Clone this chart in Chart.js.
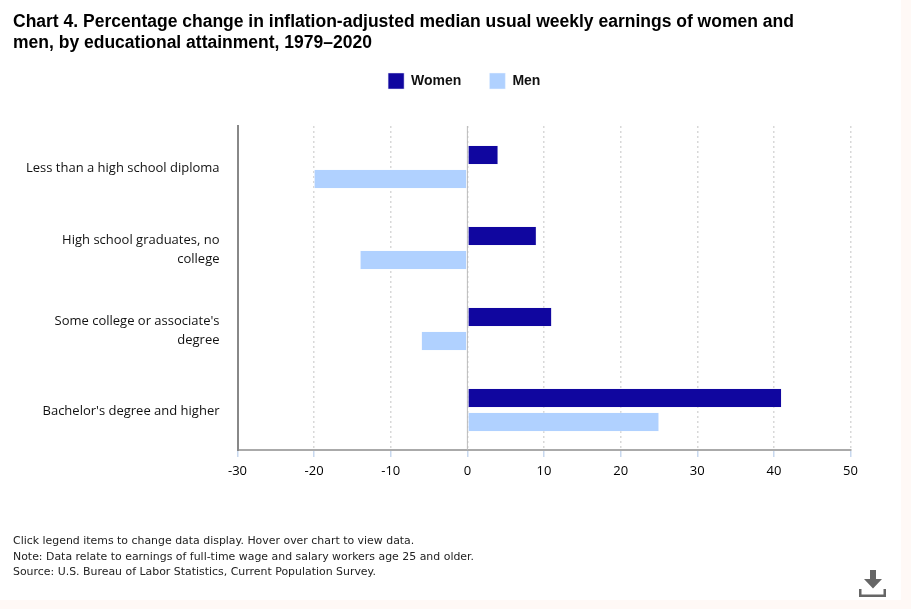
<!DOCTYPE html>
<html>
<head>
<meta charset="utf-8">
<style>
  html, body { margin: 0; padding: 0; width: 911px; height: 609px; overflow: hidden; background: #fff9f6; }
  #panel { position: absolute; left: 0; top: 0; width: 901px; height: 600px; background: #fff; }
  #title { position: absolute; left: 13px; top: 11px; width: 860px; font: bold 17.5px/21px "Liberation Sans", Arial, sans-serif; color: #000; }
  #notes { position: absolute; left: 13px; top: 533px; font: 10.93px/15.5px "DejaVu Sans", sans-serif; color: #222; }
  #chart { position: absolute; left: 0; top: 0; }
  #download { position: absolute; left: 859px; top: 570px; }
</style>
<script src="https://cdn.jsdelivr.net/npm/chart.js@4"></script>
</head>
<body>
<div id="panel"></div>
<canvas id="chart" width="930" height="609" style="width:930px;height:609px"></canvas>
<div id="title">Chart 4. Percentage change in inflation-adjusted median usual weekly earnings of women and<br>men, by educational attainment, 1979–2020</div>
<div id="notes">Click legend items to change data display. Hover over chart to view data.<br>Note: Data relate to earnings of full-time wage and salary workers age 25 and older.<br>Source: U.S. Bureau of Labor Statistics, Current Population Survey.</div>
<svg id="download" width="28" height="27" viewBox="0 0 28 27">
  <path d="M11 0h6v9h6l-9 9.500-9-9.500h6z" fill="#666"/>
  <path d="M0 19h2.500v5.500h22v-5.500h2.500v8H0z" fill="#666"/>
</svg>
<script>
// dados
const categories = [
  "Less than a high school diploma",
  ["High school graduates, no", "college"],
  ["Some college or associate's", "degree"],
  "Bachelor's degree and higher"
];
const women = [4, 9, 11, 41];
const men = [-20, -14, -6, 25];

// linha do zero e posição da legenda
const zeroLine = {
  id: "zeroLine",
  beforeInit(chart) {
    const fit = chart.legend.fit;
    chart.legend.fit = function () {
      fit.call(this);
      this.height += 27;
    };
  },
  afterLayout(chart) {
    chart.legend.left += 39;
    chart.legend.right += 39;
  },
  beforeDatasetsDraw(chart) {
    const x = chart.scales.x.getPixelForValue(0);
    const ctx = chart.ctx;
    ctx.save();
    ctx.strokeStyle = "#bbbbbb";
    ctx.lineWidth = 1;
    ctx.beginPath();
    ctx.moveTo(x, chart.chartArea.top);
    ctx.lineTo(x, chart.chartArea.bottom);
    ctx.stroke();
    ctx.restore();
    // barras meio px abaixo
    ctx.save();
    ctx.translate(0, 0.5);
  },
  afterDatasetsDraw(chart) {
    chart.ctx.restore();
  }
};

new Chart(document.getElementById("chart"), {
  type: "bar",
  plugins: [zeroLine],
  data: {
    labels: categories,
    datasets: [
      { label: "Women", data: women, backgroundColor: "#10069f", borderColor: "#e4e4f4", borderWidth: 0.5, borderSkipped: false },
      { label: "Men", data: men, backgroundColor: "#b0d1ff", borderColor: "#f0f6ff", borderWidth: 0.5, borderSkipped: false }
    ]
  },
  options: {
    indexAxis: "y",
    responsive: false,
    animation: false,
    devicePixelRatio: 1,
    categoryPercentage: 0.59,
    barPercentage: 0.8,
    layout: { padding: { top: 45, right: 79.5, bottom: 0, left: 0 } },
    plugins: {
      legend: {
        position: "top",
        labels: {
          boxWidth: 16,
          boxHeight: 16,
          padding: 28,
          color: "#111",
          font: { family: "Liberation Sans", size: 14, weight: "bold" }
        }
      },
      tooltip: { enabled: false }
    },
    scales: {
      x: {
        min: -30,
        max: 50,
        afterFit(scale) { scale.height = 159; },
        border: { display: true, color: "#aaaaaa", width: 2, dash: [2, 3] },
        grid: { color: "#d8d8d8", lineWidth: 1.5, tickLength: 7, tickColor: "#c8d8ee", tickBorderDash: [] },
        ticks: {
          stepSize: 10,
          maxRotation: 0,
          padding: 6,
          color: "#000",
          font: { family: "Open Sans", size: 13 }
        }
      },
      y: {
        afterFit(scale) { scale.width = 237.5; },
        border: { display: true, color: "#888888", width: 2 },
        grid: { display: false, drawTicks: false },
        ticks: {
          padding: 18,
          labelOffset: 2,
          color: "#111",
          font: { family: "Open Sans", size: 13, lineHeight: 1.46 }
        }
      }
    }
  }
});
</script>
</body>
</html>
